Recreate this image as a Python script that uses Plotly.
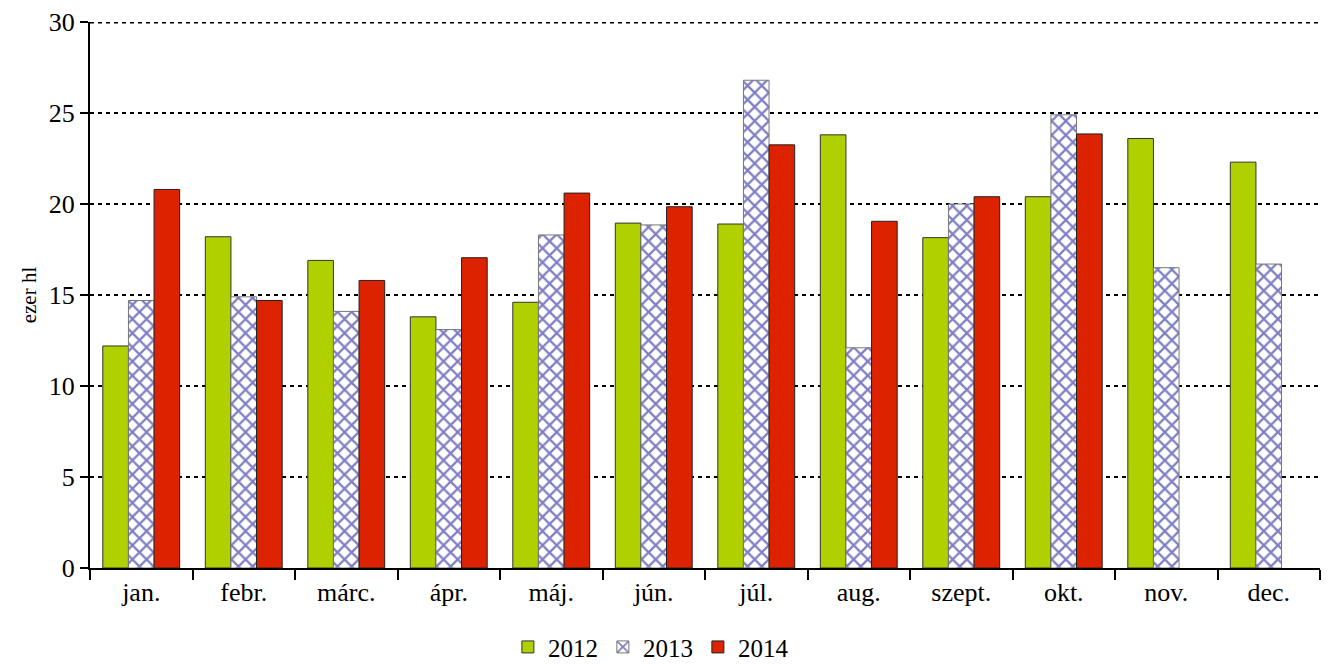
import plotly.graph_objects as go

months = ["jan.", "febr.", "márc.", "ápr.", "máj.", "jún.", "júl.", "aug.", "szept.", "okt.", "nov.", "dec."]
v2012 = [12.2, 18.2, 16.9, 13.8, 14.6, 18.95, 18.9, 23.8, 18.15, 20.4, 23.6, 22.3]
v2013 = [14.7, 14.9, 14.1, 13.1, 18.3, 18.85, 26.8, 12.1, 20.0, 24.9, 16.5, 16.7]
v2014 = [20.8, 14.7, 15.8, 17.05, 20.6, 19.85, 23.25, 19.05, 20.4, 23.85, None, None]
yticks = [0, 5, 10, 15, 20, 25, 30]

FONT = "Liberation Serif"

fig = go.Figure()
fig.add_trace(go.Bar(name="2012", x=months, y=v2012,
                     marker=dict(color="#b0d000", line=dict(color="#333333", width=1))))
fig.add_trace(go.Bar(name="2013", x=months, y=v2013,
                     marker=dict(color="white", line=dict(color="#777777", width=1),
                                 pattern=dict(shape="x", fgcolor="#000088", bgcolor="white",
                                              size=10, solidity=0.4))))
fig.add_trace(go.Bar(name="2014", x=months, y=v2014,
                     marker=dict(color="#dd2200", line=dict(color="#222222", width=1))))

# top gridline (at the edge of the plot area)
fig.add_shape(type="line", xref="paper", yref="y", x0=0, x1=1, y0=yticks[-1], y1=yticks[-1],
              line=dict(color="black", width=3, dash="4px,4px"), layer="below")

# page body has an 8px margin, so the figure is shrunk by 8px and margins shifted
fig.update_layout(
    width=1321, height=656,
    margin=dict(l=82, r=9, t=14, b=96, autoexpand=False),
    paper_bgcolor="white", plot_bgcolor="white",
    barmode="group", bargap=0.25, bargroupgap=0,
    font=dict(family=FONT, size=26, color="black"),
    showlegend=True,
    legend=dict(orientation="h", x=0.456, xanchor="center", y=-0.145, yanchor="middle",
                font=dict(family=FONT, size=25), itemwidth=30, tracegroupgap=0),
)
fig.update_xaxes(
    showline=True, linecolor="black", linewidth=2,
    ticks="outside", tickson="boundaries", ticklen=10, tickwidth=2, tickcolor="black",
    tickfont=dict(family=FONT, size=26), showgrid=False,
)
fig.update_yaxes(
    range=[0, 30], tickvals=yticks,
    showline=True, linecolor="black", linewidth=2,
    ticks="outside", ticklen=8, tickwidth=2, tickcolor="black",
    tickfont=dict(family=FONT, size=26),
    showgrid=True, gridcolor="black", gridwidth=1.5, griddash="4px,4px",
    zeroline=False,
    title=dict(text="ezer hl", font=dict(family=FONT, size=21), standoff=6),
)

fig.write_html("out.html")
